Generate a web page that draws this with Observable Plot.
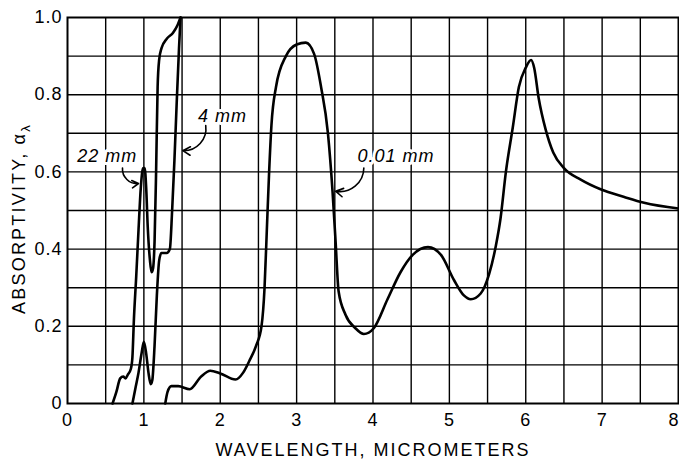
<!DOCTYPE html>
<html><head><meta charset="utf-8">
<script src="https://cdn.jsdelivr.net/npm/d3@7"></script>
<script src="https://cdn.jsdelivr.net/npm/@observablehq/plot@0.6"></script>
<style>body{margin:0;background:#fff}</style>
</head><body><div id="chart"></div>
<script>
// 22 mm water layer
const lam22 = [0.59,0.64,0.69,0.73,0.76,0.79,0.83,0.85,0.87,0.9,0.93,0.96,0.99,1.01,1.03,1.05,1.08,1.1,1.12,1.14,1.16,1.18,1.2,1.23,1.3,1.38,1.44,1.48];
const abs22 = [0,0.03,0.065,0.07,0.065,0.075,0.09,0.12,0.22,0.33,0.45,0.56,0.61,0.61,0.56,0.46,0.37,0.34,0.35,0.42,0.6,0.82,0.89,0.92,0.945,0.96,0.98,1.0];
// 4 mm water layer
const lam4 = [0.85,0.89,0.93,0.97,1.0,1.03,1.06,1.09,1.11,1.14,1.17,1.2,1.23,1.3,1.34,1.37,1.4,1.43,1.46,1.48];
const abs4 = [0,0.04,0.08,0.13,0.16,0.13,0.08,0.05,0.06,0.15,0.28,0.37,0.39,0.39,0.4,0.5,0.63,0.78,0.92,1.0];
// 0.01 mm water layer
const lam001 = [1.28,1.31,1.36,1.45,1.6,1.75,1.87,2.0,2.2,2.3,2.38,2.47,2.54,2.58,2.61,2.64,2.67,2.73,2.86,3.0,3.12,3.23,3.32,3.41,3.47,3.51,3.55,3.64,3.77,3.88,4.01,4.19,4.36,4.52,4.72,4.89,5.06,5.19,5.28,5.41,5.52,5.61,5.67,5.74,5.83,5.91,6.0,6.07,6.11,6.17,6.26,6.36,6.5,6.72,6.98,7.29,7.55,8.0];
const abs001 = [0,0.03,0.045,0.045,0.037,0.07,0.085,0.078,0.062,0.08,0.11,0.15,0.2,0.3,0.45,0.6,0.72,0.82,0.9,0.93,0.935,0.905,0.82,0.7,0.55,0.42,0.29,0.23,0.195,0.18,0.195,0.27,0.34,0.385,0.405,0.385,0.32,0.28,0.27,0.285,0.335,0.41,0.48,0.6,0.715,0.82,0.87,0.89,0.87,0.79,0.71,0.65,0.61,0.58,0.555,0.535,0.52,0.505];

const xTicks = [0,1,2,3,4,5,6,7];
const xLastTick = [8];
const yTicks = [0,0.2,0.4,0.6,0.8,1.0];
const yTickLabels = ["0","0.2","0.4","0.6","0.8","1.0"];
const xGrid = [0.5,1,1.5,2,2.5,3,3.5,4,4.5,5,5.5,6,6.5,7,7.5];
const yGrid = [0.1,0.2,0.3,0.4,0.5,0.6,0.7,0.8,0.9];

const curveNames = ["22 mm","4 mm","0.01 mm"];
const labelX = [0.52,2.03,4.30];
const labelY = [0.64,0.745,0.64];
const arrowX1 = [0.72,1.81,3.88];
const arrowY1 = [0.61,0.72,0.61];
const arrowX2 = [0.93,1.51,3.51];
const arrowY2 = [0.57,0.655,0.55];
const arrowBend = [-50,50,50];

const xTitle = "WAVELENGTH, MICROMETERS";
const yTitle = "ABSORPTIVITY, α";
const ySub = "λ";

const toRows = (xs, ys) => xs.map((x,i)=>({x, y: ys[i]}));
const idx = curveNames.map((_,i)=>i);
const arrowMarks = idx.map(i => Plot.arrow([i], {
  x1: j=>arrowX1[j], y1: j=>arrowY1[j], x2: j=>arrowX2[j], y2: j=>arrowY2[j],
  bend: arrowBend[i], stroke: "black", strokeWidth: 1.6, headLength: 8
}));

const chart = Plot.plot({
  width: 679, height: 469,
  marginLeft: 67, marginRight: 1, marginTop: 17, marginBottom: 66,
  x: {domain: [0, 8]},
  y: {domain: [0, 1]},
  style: {fontFamily: "'Liberation Sans', Arial, sans-serif", fontSize: "18px", background: "white", color: "black"},
  marks: [
    Plot.ruleX(xGrid, {stroke: "black", strokeWidth: 1.4}),
    Plot.ruleY(yGrid, {stroke: "black", strokeWidth: 1.4}),
    Plot.frame({stroke: "black", strokeWidth: 2}),
    Plot.text(idx, {x: i=>labelX[i], y: i=>labelY[i], text: i=>curveNames[i], fontStyle: "italic", fontSize: 18, fill: "black", stroke: "white", strokeWidth: 6}),
    Plot.line(toRows(lam22, abs22), {x: "x", y: "y", stroke: "black", strokeWidth: 2.6, curve: "monotone-x"}),
    Plot.line(toRows(lam4, abs4), {x: "x", y: "y", stroke: "black", strokeWidth: 2.6, curve: "monotone-x"}),
    Plot.line(toRows(lam001, abs001), {x: "x", y: "y", stroke: "black", strokeWidth: 2.6, curve: "monotone-x"}),
    ...arrowMarks,
    Plot.axisX({ticks: xTicks, tickSize: 0, tickPadding: 10, label: null, fontSize: 18}),
    Plot.axisX({ticks: xLastTick, tickSize: 0, tickPadding: 10, label: null, fontSize: 18, textAnchor: "end", dx: 1}),
    Plot.axisY({ticks: yTicks, tickSize: 0, tickPadding: 5, label: null, fontSize: 18, tickFormat: d => yTickLabels[yTicks.indexOf(d)]}),
    Plot.text([xTitle], {frameAnchor: "bottom", dy: 52, fontSize: 18, fill: "black"}),
    Plot.text([yTitle], {frameAnchor: "left", textAnchor: "middle", dx: -48, dy: 8, rotate: -90, fontSize: 18, fill: "black"})
  ]
});
document.getElementById("chart").appendChild(chart);
chart.querySelectorAll("text").forEach(t => {
  if (t.textContent === yTitle) {
    t.setAttribute("letter-spacing", "2.2");
    const ts = document.createElementNS("http://www.w3.org/2000/svg", "tspan");
    ts.setAttribute("dy", "0.35em");
    ts.setAttribute("font-size", "13");
    ts.textContent = ySub;
    t.appendChild(ts);
  } else if (t.textContent === xTitle) {
    t.setAttribute("letter-spacing", "2");
  } else {
    t.setAttribute("letter-spacing", "1");
  }
});
</script>
</body></html>
